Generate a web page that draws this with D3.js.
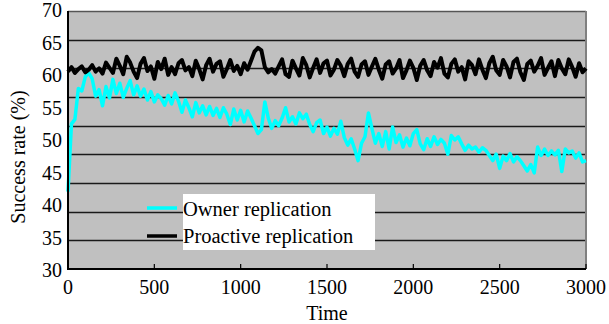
<!DOCTYPE html>
<html>
<head>
<meta charset="utf-8">
<script src="https://cdn.jsdelivr.net/npm/d3@7"></script>
<style>
  html, body { margin: 0; padding: 0; background: #fff; }
  svg { display: block; }
</style>
</head>
<body>
<svg id="chart" width="609" height="324"></svg>
<script>
// ---- data ----
const timeStep = 20;
const xTicks = [0, 500, 1000, 1500, 2000, 2500, 3000];
const yTicks = [30, 35, 40, 45, 50, 55, 60, 65, 70];
const seriesNames = ["Owner replication", "Proactive replication"];

const ownerValues = [
  42.0, 52.5, 53.2, 58.0, 57.6, 59.8, 60.4, 59.5, 56.8, 57.8, 55.3,
  58.3, 56.5, 59.4, 57.2, 58.8, 56.6, 58.0, 59.2, 57.0, 58.4,
  56.8, 57.9, 56.2, 57.5, 55.9, 57.0, 56.4, 55.4, 56.9, 55.6,
  57.3, 56.0, 54.3, 56.2, 55.0, 53.6, 55.8, 54.2, 55.3, 53.9,
  55.2, 53.8, 54.9, 53.5, 55.0, 54.0, 52.4, 54.8, 53.1, 54.6,
  52.8, 54.5, 53.4, 52.2, 51.0, 51.6, 55.9, 53.4, 51.8, 53.0,
  52.2, 53.4, 55.0, 52.8, 53.6, 52.5, 54.2, 53.3, 54.0, 52.4,
  51.3, 52.7, 53.1, 51.0, 52.0, 50.6, 51.8, 50.9, 52.9, 50.4,
  49.2, 50.2, 48.6, 46.8, 49.5, 50.5, 54.2, 51.8, 49.5, 51.0,
  49.0, 51.3, 48.6, 52.0, 49.6, 50.8, 48.9, 50.3, 49.1, 51.0,
  51.6, 49.4, 48.5, 50.2, 49.0, 50.5, 49.3, 50.1, 49.5, 47.8,
  50.7, 50.0, 50.5, 49.4, 48.4, 49.2, 48.6, 48.9, 48.1, 48.8,
  48.4, 47.6, 46.8, 47.8, 45.6, 47.5, 46.8, 47.9, 46.6, 47.4,
  46.8, 46.0, 45.2, 46.2, 44.9, 48.9, 47.6, 48.6, 47.6, 48.3,
  47.7, 48.4, 45.1, 48.6, 48.0, 48.3, 47.2, 48.0, 46.6, 46.8
];

const proactiveValues = [
  60.6, 61.3, 60.4, 61.0, 61.4, 60.5, 60.9, 61.6, 60.6, 61.1, 60.3,
  62.0, 61.2, 60.4, 62.6, 61.5, 60.2, 62.9, 62.0, 60.6, 59.6,
  61.8, 62.7, 60.7, 61.4, 59.5, 62.1, 61.0, 62.6, 60.1, 61.3,
  60.2, 61.9, 62.4, 60.8, 61.3, 59.9, 62.3, 61.0, 59.4, 61.6,
  62.6, 60.6, 61.8, 62.2, 59.8, 61.0, 62.4, 60.7, 61.5, 60.2,
  61.9, 60.9, 62.3, 63.7, 64.3, 63.9, 61.3, 60.5, 61.0, 60.3,
  61.4, 62.5, 60.2, 59.8, 62.3, 61.1, 60.0, 62.7, 61.6, 59.7,
  61.2, 62.5, 60.4, 61.9, 62.3, 60.0, 60.9, 62.4, 61.5, 59.9,
  61.8, 62.6, 60.6, 59.8, 61.7, 62.2, 60.1, 61.4, 62.6, 60.9,
  59.5, 61.7, 62.2, 60.3, 61.1, 62.4, 59.6, 60.8, 62.3, 61.2,
  59.3, 61.5, 62.4, 60.8, 59.9, 62.1, 61.2, 62.7, 60.3, 59.7,
  61.8, 62.5, 60.6, 61.3, 59.4, 62.2, 61.6, 60.2, 62.5, 60.9,
  59.6, 61.9, 62.9, 60.8, 60.1, 62.4, 61.4, 59.7, 62.1, 62.6,
  60.5, 59.3, 61.8, 62.3, 60.6, 61.5, 62.7, 60.1, 61.2, 62.2,
  59.9, 62.4, 61.1, 60.2, 62.5, 61.3, 59.8, 61.9, 60.5, 61.1
];

// ---- layout ----
const FONT = "'Liberation Serif', Tinos, 'Times New Roman', Times, 'Noto Serif', 'DejaVu Serif', FreeSerif, serif";
const svg = d3.select("#chart");
const L = 68, R = 586, T = 11, B = 269;
const x = d3.scaleLinear().domain([0, 3000]).range([L, R]);
const y = d3.scaleLinear().domain([30, 70]).range([B, T]);

// plot background
svg.append("rect").attr("x", L).attr("y", T).attr("width", R - L).attr("height", B - T)
  .attr("fill", "#c0c0c0");

// horizontal gridlines (9 equal bands as in the reference)
const gridVals = d3.range(1, 9).map(k => 30 + k * 40 / 9);
svg.append("g").selectAll("line").data(gridVals).join("line")
  .attr("x1", L).attr("x2", R)
  .attr("y1", d => Math.round(y(d)) + 0.5).attr("y2", d => Math.round(y(d)) + 0.5)
  .attr("stroke", "#1a1a1a").attr("stroke-width", 1.3);

// top and right borders
svg.append("line").attr("x1", L).attr("x2", R).attr("y1", T + 0.5).attr("y2", T + 0.5)
  .attr("stroke", "#555").attr("stroke-width", 1.5);
svg.append("line").attr("x1", R).attr("x2", R).attr("y1", T).attr("y2", B)
  .attr("stroke", "#808080").attr("stroke-width", 2);

// series
const toPts = vals => vals.map((v, i) => [i * timeStep, v]);
const line = d3.line().x(d => x(d[0])).y(d => y(d[1]));
const colors = ["#00ffff", "#000000"];
svg.append("path").datum(toPts(ownerValues)).attr("d", line)
  .attr("fill", "none").attr("stroke", colors[0]).attr("stroke-width", 3.5)
  .attr("stroke-linejoin", "round");
svg.append("path").datum(toPts(proactiveValues)).attr("d", line)
  .attr("fill", "none").attr("stroke", colors[1]).attr("stroke-width", 4)
  .attr("stroke-linejoin", "round");

// axes lines
svg.append("line").attr("x1", L).attr("x2", L).attr("y1", T).attr("y2", B + 1)
  .attr("stroke", "#000").attr("stroke-width", 2);
svg.append("line").attr("x1", L - 1).attr("x2", R).attr("y1", B).attr("y2", B)
  .attr("stroke", "#000").attr("stroke-width", 2);

// x ticks (inward) and labels
svg.append("g").selectAll("line").data(xTicks).join("line")
  .attr("x1", d => x(d)).attr("x2", d => x(d)).attr("y1", B).attr("y2", B - 5)
  .attr("stroke", "#000").attr("stroke-width", 1.2);
svg.append("g").selectAll("text").data(xTicks).join("text")
  .attr("x", d => x(d)).attr("y", 294).attr("text-anchor", "middle")
  .style("font-family", FONT).attr("font-size", 20).text(d => d);

// y labels
svg.append("g").selectAll("text").data(yTicks).join("text")
  .attr("x", 62).attr("y", d => y(d) + 7 + (d - 50) * -0.05).attr("text-anchor", "end")
  .style("font-family", FONT).attr("font-size", 20).text(d => d);

// axis titles
svg.append("text").attr("x", x(1500)).attr("y", 320).attr("text-anchor", "middle")
  .style("font-family", FONT).attr("font-size", 20).text("Time");
svg.append("text").attr("transform", "translate(25,157) rotate(-90)")
  .attr("text-anchor", "middle").style("font-family", FONT).attr("font-size", 20)
  .text("Success rate (%)");

// legend
const lg = svg.append("g");
lg.append("rect").attr("x", 183).attr("y", 194).attr("width", 192).attr("height", 56)
  .attr("fill", "#fff");
seriesNames.forEach((name, i) => {
  const cy = 208 + i * 28;
  lg.append("line").attr("x1", 147).attr("x2", 177).attr("y1", cy).attr("y2", cy)
    .attr("stroke", colors[i]).attr("stroke-width", 3.5);
  lg.append("text").attr("x", 183).attr("y", 216 + i * 27)
    .style("font-family", FONT).attr("font-size", 20.5).text(name);
});
</script>
</body>
</html>
